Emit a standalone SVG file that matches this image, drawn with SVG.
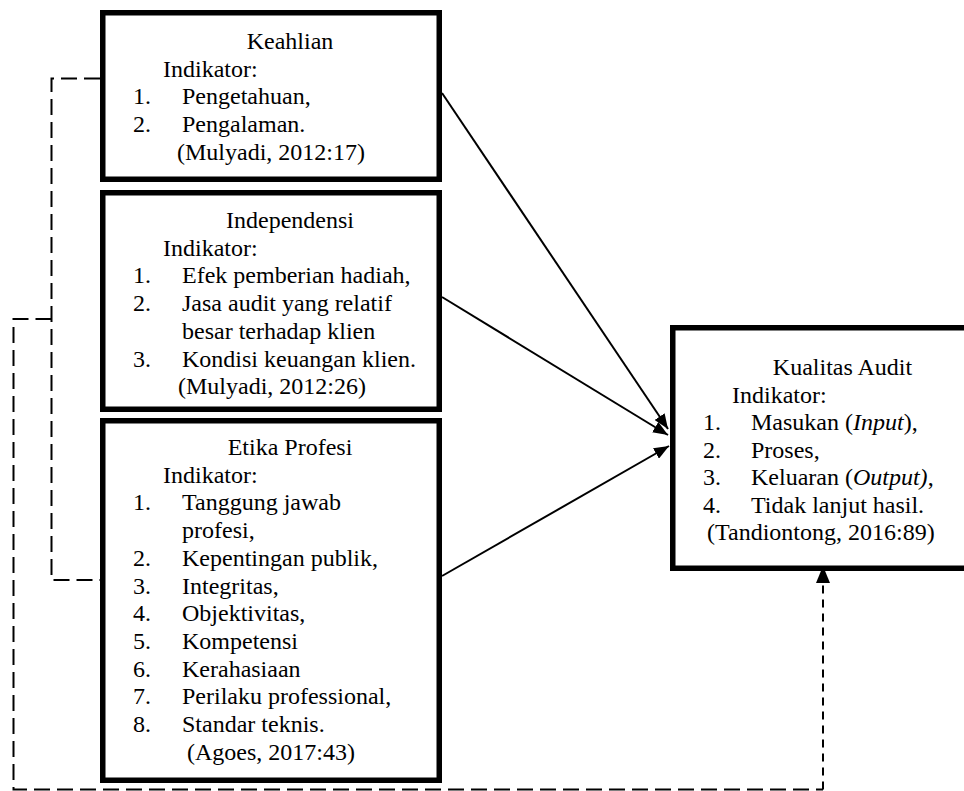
<svg xmlns="http://www.w3.org/2000/svg" width="964" height="791" viewBox="0 0 964 791">
<style>
text { font-family: "Liberation Serif", "Times New Roman", serif; font-size: 24px; fill: #000; }
.t { text-anchor: middle; }
.box { fill: #fff; stroke: #000; stroke-width: 5.5; }
.arr { stroke: #000; stroke-width: 2; fill: none; }
.dash { stroke: #000; stroke-width: 2; fill: none; stroke-dasharray: 16 7; }
.dash2 { stroke: #000; stroke-width: 2; fill: none; stroke-dasharray: 8 6; }
</style>
<defs>
<marker id="ah" markerUnits="userSpaceOnUse" markerWidth="16" markerHeight="12" refX="15" refY="6" orient="auto">
<path d="M0,0 L15,6 L0,12 z" fill="#000"/>
</marker>
<marker id="ah2" markerUnits="userSpaceOnUse" markerWidth="18" markerHeight="14" refX="17" refY="7" orient="auto">
<path d="M0,0 L17,7 L0,14 z" fill="#000"/>
</marker>
</defs>
<g id="connectors">
<line class="arr" x1="442" y1="93" x2="668" y2="429" marker-end="url(#ah)"/>
<line class="arr" x1="442" y1="297" x2="668" y2="435" marker-end="url(#ah)"/>
<line class="arr" x1="442" y1="576" x2="669" y2="446" marker-end="url(#ah)"/>
<path class="dash" d="M100,78.5 H51.5 V580 H100"/>
<path class="dash" d="M51.5,319 H13.5 V789.5 H823"/>
<path class="dash2" d="M823,789.5 V566" marker-end="url(#ah2)"/>
</g>
<g id="keahlian">
<rect class="box" x="102.75" y="12.75" width="336.5" height="166.5"/>
<text class="t" x="290" y="49">Keahlian</text>
<text x="163" y="76.7">Indikator:</text>
<text x="133" y="104.4">1.</text><text x="182" y="104.4">Pengetahuan,</text>
<text x="133" y="132.1">2.</text><text x="182" y="132.1">Pengalaman.</text>
<text x="177" y="159.8">(Mulyadi, 2012:17)</text>
</g>
<g id="independensi">
<rect class="box" x="102.75" y="192.75" width="336.5" height="216.5"/>
<text class="t" x="290" y="228">Independensi</text>
<text x="163" y="255.7">Indikator:</text>
<text x="133" y="283.4">1.</text><text x="182" y="283.4">Efek pemberian hadiah,</text>
<text x="133" y="311.1">2.</text><text x="182" y="311.1">Jasa audit yang relatif</text>
<text x="182" y="338.8">besar terhadap klien</text>
<text x="133" y="366.5">3.</text><text x="182" y="366.5">Kondisi keuangan klien.</text>
<text x="178" y="394.2">(Mulyadi, 2012:26)</text>
</g>
<g id="etika">
<rect class="box" x="102.75" y="420.75" width="336.5" height="359.5"/>
<text class="t" x="290" y="455">Etika Profesi</text>
<text x="163" y="482.7">Indikator:</text>
<text x="133" y="510.4">1.</text><text x="182" y="510.4">Tanggung jawab</text>
<text x="182" y="538.1">profesi,</text>
<text x="133" y="565.8">2.</text><text x="182" y="565.8">Kepentingan publik,</text>
<text x="133" y="593.5">3.</text><text x="182" y="593.5">Integritas,</text>
<text x="133" y="621.2">4.</text><text x="182" y="621.2">Objektivitas,</text>
<text x="133" y="648.9">5.</text><text x="182" y="648.9">Kompetensi</text>
<text x="133" y="676.6">6.</text><text x="182" y="676.6">Kerahasiaan</text>
<text x="133" y="704.3">7.</text><text x="182" y="704.3">Perilaku professional,</text>
<text x="133" y="732">8.</text><text x="182" y="732">Standar teknis.</text>
<text x="187" y="759.7">(Agoes, 2017:43)</text>
</g>
<g id="kualitas">
<rect class="box" x="672.75" y="327.75" width="400" height="240.5"/>
<text class="t" x="842.5" y="375">Kualitas Audit</text>
<text x="732" y="402.5">Indikator:</text>
<text x="703" y="430">1.</text><text x="751" y="430">Masukan (<tspan font-style="italic">Input</tspan>),</text>
<text x="703" y="457.5">2.</text><text x="751" y="457.5">Proses,</text>
<text x="703" y="485">3.</text><text x="751" y="485">Keluaran (<tspan font-style="italic">Output)</tspan>,</text>
<text x="703" y="512.5">4.</text><text x="751" y="512.5">Tidak lanjut hasil.</text>
<text x="707" y="540">(Tandiontong, 2016:89)</text>
</g>
</svg>
